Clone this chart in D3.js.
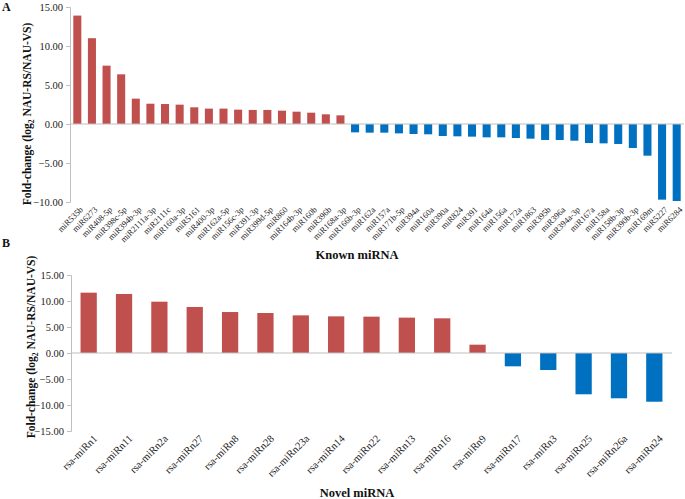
<!DOCTYPE html>
<html>
<head>
<meta charset="utf-8">
<script src="https://cdn.jsdelivr.net/npm/d3@7"></script>
<style>
html,body{margin:0;padding:0;background:#fff;}
svg{display:block;font-family:"Liberation Serif","Times New Roman",serif;}
</style>
</head>
<body>
<svg id="chart" width="685" height="499"></svg>
<script>
// Panel A: known miRNA
const knownCategories = ["miR535b","miR6273","miR408-5p","miR398c-5p","miR394b-3p","miR2111a-3p","miR2111c","miR160a-3p","miR5161","miR400-3p","miR162a-5p","miR156c-3p","miR391-3p","miR399d-5p","miR860","miR164b-3p","miR160b","miR396b","miR168a-3p","miR166b-3p","miR162a","miR157a","miR171b-5p","miR394a","miR160a","miR390a","miR824","miR391","miR164a","miR156a","miR172a","miR1863","miR395b","miR396a","miR394a-3p","miR167a","miR158a","miR158b-3p","miR390b-3p","miR169m","miR5227","miR6284"];
const knownValues = [13.9,11.0,7.48,6.37,3.25,2.6,2.56,2.48,2.14,1.97,1.97,1.84,1.8,1.8,1.71,1.58,1.45,1.24,1.11,
  -1.07,-1.11,-1.11,-1.2,-1.28,-1.32,-1.54,-1.58,-1.62,-1.71,-1.71,-1.8,-1.88,-2.05,-2.05,-2.14,-2.44,-2.48,-2.56,-3.08,-4.06,-9.7,-9.87];
const knownTicks = [15,10,5,0,-5,-10];

// Panel B: novel miRNA
const novelCategories = ["rsa-miRn1","rsa-miRn11","rsa-miRn2a","rsa-miRn27","rsa-miRn8","rsa-miRn28","rsa-miRn23a","rsa-miRn14","rsa-miRn22","rsa-miRn13","rsa-miRn16","rsa-miRn9","rsa-miRn17","rsa-miRn3","rsa-miRn25","rsa-miRn26a","rsa-miRn24"];
const novelValues = [11.6,11.35,9.87,8.85,7.88,7.69,7.24,7.05,6.99,6.8,6.67,1.6,-2.56,-3.27,-7.94,-8.71,-9.37];
const novelTicks = [15,10,5,0,-5,-10,-15];

const RED = "#C0504D", BLUE = "#0070C0", AXIS = "#BFBFBF";
const svg = d3.select("#chart");

function panel(cfg){
  const g = svg.append("g");
  const x = d3.scaleBand().domain(cfg.cats).range([cfg.x0, cfg.x1])
      .paddingInner(cfg.pad).paddingOuter(cfg.pad/2);
  const y = d3.scaleLinear().domain(cfg.domain).range([cfg.yBottom, cfg.yTop]);

  // y axis
  const ya = d3.axisLeft(y).tickValues(cfg.ticks).tickSize(4).tickFormat(d3.format(".2f"));
  const yg = g.append("g").attr("transform", `translate(${cfg.x0},0)`).call(ya);
  yg.select(".domain").attr("stroke", AXIS);
  yg.selectAll(".tick line").attr("stroke", AXIS);
  yg.selectAll(".tick text").attr("font-size", cfg.tickFont).attr("fill", "#222")
    .attr("font-family", '"Liberation Serif",serif').attr("x", -7);

  // bars
  g.selectAll("rect.bar").data(cfg.vals).join("rect")
    .attr("x", (d,i) => x(cfg.cats[i]))
    .attr("width", x.bandwidth())
    .attr("y", d => y(Math.max(0,d)))
    .attr("height", d => Math.abs(y(d) - y(0)))
    .attr("fill", d => d >= 0 ? RED : BLUE);

  // zero line
  g.append("line").attr("x1", cfg.x0).attr("x2", cfg.x1)
    .attr("y1", y(0)).attr("y2", y(0)).attr("stroke", AXIS).attr("stroke-width", 1);

  // category labels
  g.selectAll("text.cat").data(cfg.cats).join("text")
    .attr("font-size", cfg.catFont).attr("fill", "#222")
    .attr("text-anchor", "end")
    .attr("transform", d => `translate(${x(d) + x.bandwidth()/2 + cfg.labDx},${cfg.labY}) rotate(-45)`)
    .attr("dy", "0.7em")
    .text(d => d);

  // x title
  g.append("text").attr("x", cfg.titleX).attr("y", cfg.titleY)
    .attr("text-anchor", "middle").attr("font-weight", "bold").attr("font-size", 12.5)
    .attr("fill", "#111").text(cfg.title);

  // y title
  const yt = g.append("text").attr("text-anchor", "middle").attr("font-weight", "bold")
    .attr("font-size", 11.5).attr("fill", "#111")
    .attr("transform", `translate(${cfg.yTitleX},${cfg.yTitleY}) rotate(-90)`);
  yt.append("tspan").text("Fold-change (log");
  yt.append("tspan").attr("font-size", 7.5).attr("dy", 3).text("2");
  yt.append("tspan").attr("dy", -3).text(" NAU-RS/NAU-VS)");

  // panel letter
  g.append("text").attr("x", 2).attr("y", cfg.letterY).attr("font-weight", "bold")
    .attr("font-size", 12).attr("fill", "#111").text(cfg.letter);
}

panel({cats: knownCategories, vals: knownValues, ticks: knownTicks, domain: [-10,15],
  x0: 70, x1: 684, yTop: 7, yBottom: 202, pad: 0.45, tickFont: 10.5, catFont: 8.5,
  labY: 206, labDx: 2, title: "Known miRNA", titleX: 357, titleY: 259,
  yTitleX: 31, yTitleY: 114, letter: "A", letterY: 11});

panel({cats: novelCategories, vals: novelValues, ticks: novelTicks, domain: [-15,15],
  x0: 71, x1: 672, yTop: 275, yBottom: 431, pad: 0.54, tickFont: 10.5, catFont: 10.5,
  labY: 434, labDx: 4, title: "Novel miRNA", titleX: 357, titleY: 497,
  yTitleX: 35, yTitleY: 347, letter: "B", letterY: 247});
</script>
</body>
</html>
